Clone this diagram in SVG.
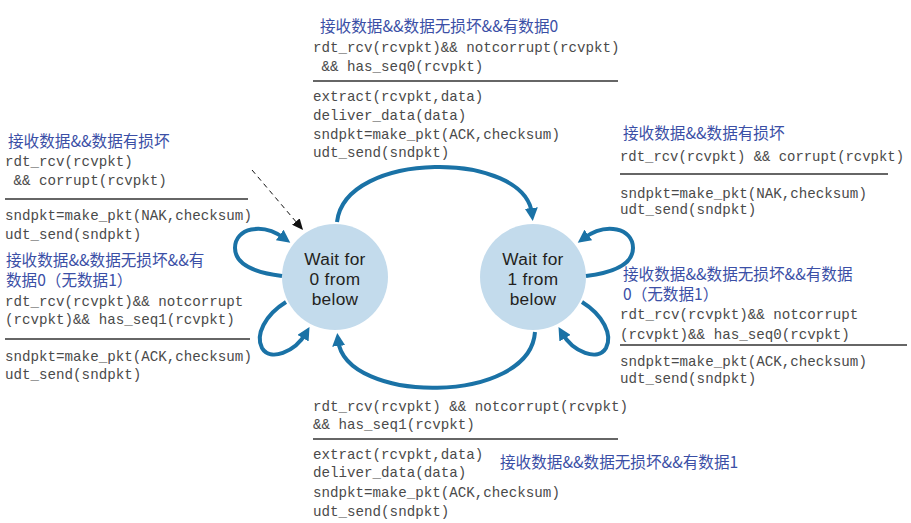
<svg xmlns="http://www.w3.org/2000/svg" width="911" height="523" viewBox="0 0 911 523">
<style>
.m{font-family:"Liberation Mono","Courier New",monospace;font-size:14.2px;fill:#4a4a4a}
.c{font-family:"Noto Sans CJK SC","Noto Sans",sans-serif;font-size:15.6px;fill:#3b4fa6}
.s{font-family:"Liberation Sans",Arial,sans-serif;font-size:17.3px;letter-spacing:0.3px;fill:#231f20;text-anchor:middle}
.rule{stroke:#333;stroke-width:1.5}
.arc{fill:none;stroke:#1a72a6;stroke-width:4;marker-end:url(#ah)}
.st{fill:#c3dbec}
</style>
<defs>
<marker id="ah" markerWidth="14" markerHeight="13" refX="6" refY="6.5" orient="auto" markerUnits="userSpaceOnUse"><path d="M0,0 L13,6.5 L0,13 z" fill="#1a72a6"/></marker>
<marker id="bh" markerWidth="12" markerHeight="10" refX="11" refY="5" orient="auto" markerUnits="userSpaceOnUse"><path d="M0,0 L11,5 L0,10 z" fill="#111"/></marker>
</defs>
<rect width="911" height="523" fill="#fff"/>
<g id="state0">
<circle class="st" cx="335" cy="277" r="53"/>
<text class="s" x="335" y="265">Wait for</text>
<text class="s" x="335" y="285">0 from</text>
<text class="s" x="335" y="305">below</text>
</g>
<g id="state1">
<circle class="st" cx="533" cy="277" r="53"/>
<text class="s" x="533" y="265">Wait for</text>
<text class="s" x="533" y="285">1 from</text>
<text class="s" x="533" y="305">below</text>
</g>
<g id="connectors">
<path class="arc" d="M337,222 C345,150 525,150 532,214"/>
<path class="arc" d="M535,332 C530,405 345,405 338,340"/>
<path class="arc" d="M282,276 C250,272 235,262 235,248 C235,228 262,222 284.6,238.5"/>
<path class="arc" d="M286,302 C265,315 255,335 262,348 C270,362 295,352 306,333"/>
<path class="arc" d="M586,276 C618,272 633,262 633,248 C633,228 606,222 583.4,238.5"/>
<path class="arc" d="M582,302 C603,315 613,335 606,348 C598,362 573,352 562,333"/>
<path d="M252,170 L303,230" fill="none" stroke="#111" stroke-width="1" stroke-dasharray="5,4" marker-end="url(#bh)"/>
</g>
<g id="label-top">
<text class="c" x="320" y="32">接收数据&amp;&amp;数据无损坏&amp;&amp;有数据0</text>
<text class="m" x="313" y="52">rdt_rcv(rcvpkt)&amp;&amp; notcorrupt(rcvpkt)</text>
<text class="m" x="313" y="71" xml:space="preserve"> &amp;&amp; has_seq0(rcvpkt)</text>
<line class="rule" x1="313" y1="81" x2="618" y2="81"/>
<text class="m" x="313" y="101">extract(rcvpkt,data)</text>
<text class="m" x="313" y="120">deliver_data(data)</text>
<text class="m" x="313" y="139">sndpkt=make_pkt(ACK,checksum)</text>
<text class="m" x="313" y="157">udt_send(sndpkt)</text>
</g>
<g id="label-left-top">
<text class="c" x="8" y="147">接收数据&amp;&amp;数据有损坏</text>
<text class="m" x="5" y="166">rdt_rcv(rcvpkt)</text>
<text class="m" x="5" y="185" xml:space="preserve"> &amp;&amp; corrupt(rcvpkt)</text>
<line class="rule" x1="5" y1="199" x2="248" y2="199"/>
<text class="m" x="5" y="220">sndpkt=make_pkt(NAK,checksum)</text>
<text class="m" x="5" y="239">udt_send(sndpkt)</text>
</g>
<g id="label-left-bottom">
<text class="c" x="6" y="266">接收数据&amp;&amp;数据无损坏&amp;&amp;有</text>
<text class="c" x="6" y="286">数据0（无数据1）</text>
<text class="m" x="5" y="306">rdt_rcv(rcvpkt)&amp;&amp; notcorrupt</text>
<text class="m" x="5" y="324">(rcvpkt)&amp;&amp; has_seq1(rcvpkt)</text>
<line class="rule" x1="5" y1="339" x2="250" y2="339"/>
<text class="m" x="5" y="361">sndpkt=make_pkt(ACK,checksum)</text>
<text class="m" x="5" y="379">udt_send(sndpkt)</text>
</g>
<g id="label-right-top">
<text class="c" x="623" y="139">接收数据&amp;&amp;数据有损坏</text>
<text class="m" x="620" y="161" textLength="284" lengthAdjust="spacingAndGlyphs">rdt_rcv(rcvpkt) &amp;&amp; corrupt(rcvpkt)</text>
<line class="rule" x1="620" y1="174" x2="888" y2="174"/>
<text class="m" x="620" y="198">sndpkt=make_pkt(NAK,checksum)</text>
<text class="m" x="620" y="214">udt_send(sndpkt)</text>
</g>
<g id="label-right-bottom">
<text class="c" x="623" y="280">接收数据&amp;&amp;数据无损坏&amp;&amp;有数据</text>
<text class="c" x="623" y="300">0（无数据1）</text>
<text class="m" x="620" y="319">rdt_rcv(rcvpkt)&amp;&amp; notcorrupt</text>
<text class="m" x="620" y="339">(rcvpkt)&amp;&amp; has_seq0(rcvpkt)</text>
<line class="rule" x1="620" y1="345" x2="907" y2="345"/>
<text class="m" x="620" y="366">sndpkt=make_pkt(ACK,checksum)</text>
<text class="m" x="620" y="383">udt_send(sndpkt)</text>
</g>
<g id="label-bottom">
<text class="m" x="313" y="411">rdt_rcv(rcvpkt) &amp;&amp; notcorrupt(rcvpkt)</text>
<text class="m" x="313" y="429">&amp;&amp; has_seq1(rcvpkt)</text>
<line class="rule" x1="313" y1="439" x2="618" y2="439"/>
<text class="m" x="313" y="459">extract(rcvpkt,data)</text>
<text class="m" x="313" y="477">deliver_data(data)</text>
<text class="m" x="313" y="497">sndpkt=make_pkt(ACK,checksum)</text>
<text class="m" x="313" y="516">udt_send(sndpkt)</text>
<text class="c" x="500" y="468">接收数据&amp;&amp;数据无损坏&amp;&amp;有数据1</text>
</g>
</svg>
